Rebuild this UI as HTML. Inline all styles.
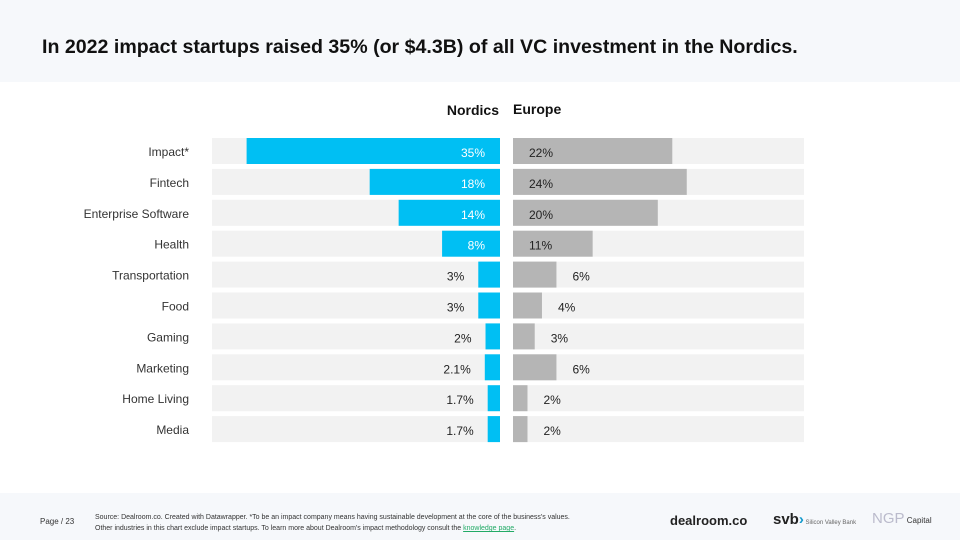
<!DOCTYPE html>
<html><head><meta charset="utf-8"><style>
body{margin:0;width:960px;height:540px;background:#fff;font-family:"Liberation Sans",sans-serif;position:relative;overflow:hidden}
.hdr{position:absolute;left:0;top:0;width:960px;height:82px;background:#f6f8fb}
.ttl{position:absolute;left:42px;top:36px;font-size:19.6px;font-weight:bold;color:#111}
.ftr{position:absolute;left:0;top:493px;width:960px;height:47px;background:#f6f8fb}
.src{position:absolute;left:95px;top:512px;font-size:7px;color:#333;line-height:11px}
.pg{position:absolute;left:40px;top:517px;font-size:8px;color:#333}
</style></head><body>
<div class="hdr"></div>
<div class="ttl">In 2022 impact startups raised 35% (or $4.3B) of all VC investment in the Nordics.</div>
<svg id="chart" width="960" height="540" style="position:absolute;left:0;top:0"></svg>
<div class="ftr"></div>
<div class="pg">Page / 23</div>
<div class="src">Source: Dealroom.co. Created with Datawrapper. *To be an impact company means having sustainable development at the core of the business's values.<br>Other industries in this chart exclude impact startups. To learn more about Dealroom's impact methodology consult the <u style="color:#2a6">knowledge page</u>.</div>
<div style="position:absolute;left:670px;top:513px;font-size:13px;font-weight:bold;color:#222">dealroom.co</div>
<div style="position:absolute;left:773px;top:511px;font-size:15px;font-weight:bold;color:#222">svb<span style="color:#19c;">›</span><span style="font-size:6px;font-weight:normal;color:#666"> Silicon Valley Bank</span></div>
<div style="position:absolute;left:872px;top:510px;font-size:15px;color:#bbc">NGP<span style="font-size:8px;color:#333"> Capital</span></div>
<script>
const categories=["Impact*","Fintech","Enterprise Software","Health","Transportation","Food","Gaming","Marketing","Home Living","Media"];
const nordics=[35,18,14,8,3,3,2,2.1,1.7,1.7];
const nordicLabels=["35%","18%","14%","8%","3%","3%","2%","2.1%","1.7%","1.7%"];
const europe=[22,24,20,11,6,4,3,6,2,2];
const europeLabels=["22%","24%","20%","11%","6%","4%","3%","6%","2%","2%"];
const svg=document.getElementById('chart');const NS='http://www.w3.org/2000/svg';
const SC=7.24, NR=500, EL=513, BGW=290, Y0=138, PITCH=30.9, BH=26;
function xN(v){return NR-v*SC} function xE(v){return EL+v*SC} function yR(i){return Y0+i*PITCH}
function mk(t,a){const e=document.createElementNS(NS,t);for(const k in a)e.setAttribute(k,a[k]);svg.appendChild(e);return e}
function txt(x,y,s,anchor,fill,w){const t=mk('text',{x:x,y:y,'text-anchor':anchor,fill:fill,'font-size':12,'font-family':'Liberation Sans, sans-serif','font-weight':w||'normal'});t.textContent=s;return t}
let h=txt(499,115,"Nordics","end","#111","bold");h.setAttribute('font-size',14);


h=txt(513,114,"Europe","start","#111","bold");h.setAttribute('font-size',14);


categories.forEach((c,i)=>{
 const y=yR(i), cy=y+BH/2+6;
 let e=txt(189,cy-1,c,"end","#333");
 
 
 e=mk('rect',{x:NR-BGW+2,y:y,width:BGW-2,height:BH,fill:'#f2f2f2'});
 
 
 e=mk('rect',{x:EL,y:y,width:BGW+1,height:BH,fill:'#f2f2f2'});
 
 
 e=mk('rect',{x:xN(nordics[i]),y:y,width:nordics[i]*SC,height:BH,fill:'#00bff3'});
 
 
 e=mk('rect',{x:EL,y:y,width:xE(europe[i])-EL,height:BH,fill:'#b5b5b5'});
 
 
 if(nordics[i]>=8) e=txt(NR-15,cy,nordicLabels[i],"end","#fff");
 else e=txt(xN(nordics[i])-14,cy,nordicLabels[i],"end","#222");
 
 
 if(europe[i]>=10) e=txt(EL+16,cy,europeLabels[i],"start","#222");
 else e=txt(xE(europe[i])+16,cy,europeLabels[i],"start","#222");
 
 
});
</script>
</body></html>
